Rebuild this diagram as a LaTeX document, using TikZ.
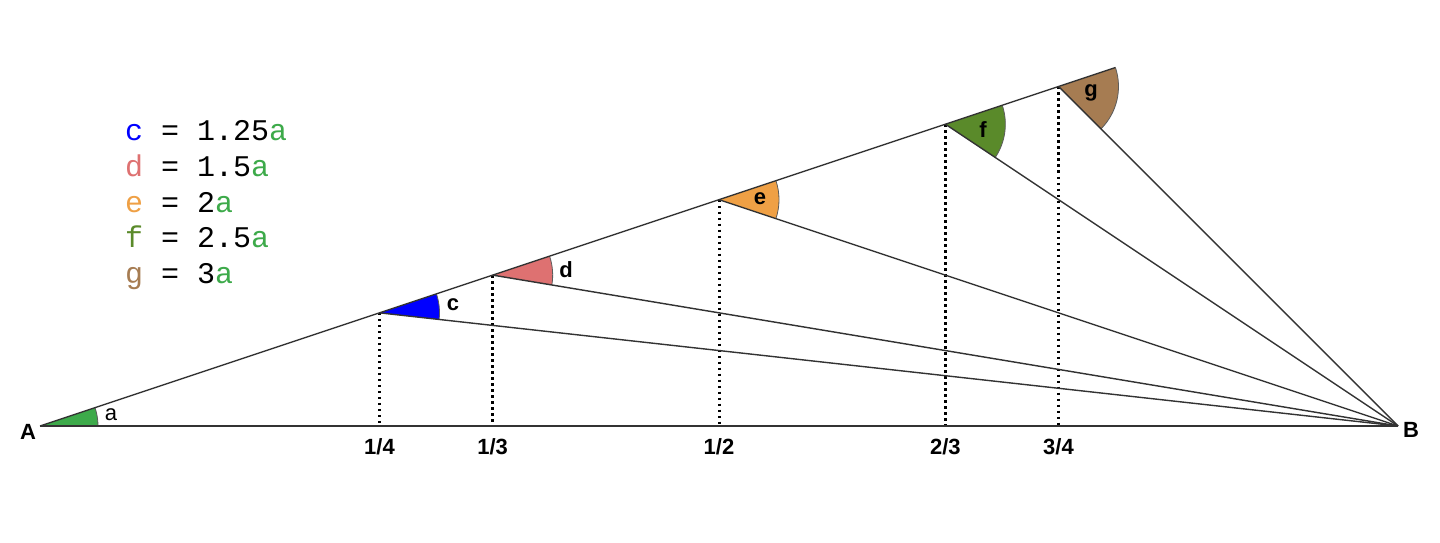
\documentclass[tikz,border=0pt]{standalone}
\usepackage{fontspec}
\setmainfont{Liberation Sans}
\newfontfamily\monofam{Liberation Mono}
\usetikzlibrary{calc}
\definecolor{cA}{HTML}{3DAA4A}
\definecolor{cC}{HTML}{0000FF}
\definecolor{cD}{HTML}{DE7171}
\definecolor{cE}{HTML}{EFA045}
\definecolor{cF}{HTML}{5A8A2A}
\definecolor{cG}{HTML}{A67C52}
\definecolor{lineC}{HTML}{333333}
\tikzset{
  mainline/.style={draw=lineC, line width=1.4pt},
  arcline/.style={draw=lineC!80, line width=0.8pt},
  dotline/.style={draw=black, line width=3pt, dash pattern=on 2.6pt off 3.4pt},
  lbl/.style={font=\fontsize{22}{22}\selectfont\bfseries, inner sep=0pt},
  albl/.style={font=\fontsize{22}{22}\selectfont, inner sep=0pt},
  leg/.style={font=\monofam\fontsize{30}{30}\selectfont, anchor=base west, inner sep=0pt}
}
\begin{document}
\begin{tikzpicture}[x=1pt,y=1pt]
\useasboundingbox (0,0) rectangle (1440,542);
\fill[white] (0,0) rectangle (1440,542);
\def\ta{18.435}
\coordinate (A) at (40,116);
\coordinate (B) at (1398,116);
\coordinate (P1) at (379.5,229.17);
\coordinate (P2) at (492.67,266.89);
\coordinate (P3) at (719,342.33);
\coordinate (P4) at (945.33,417.78);
\coordinate (P5) at (1058.5,455.5);
\coordinate (F1) at (379.5,116);
\coordinate (F2) at (492.67,116);
\coordinate (F3) at (719,116);
\coordinate (F4) at (945.33,116);
\coordinate (F5) at (1058.5,116);
\coordinate (T) at ($(P5)+(\ta:60)$);
% sectors
\fill[cA] (A) -- ++(0:58) arc[start angle=0, end angle=\ta, radius=58] -- cycle;
\draw[arcline] ($(A)+(0:58)$) arc[start angle=0, end angle=\ta, radius=58];
\foreach \P/\e/\c in {P1/-6.340/cC, P2/-9.462/cD, P3/-18.435/cE, P4/-33.690/cF, P5/-45/cG}{
  \fill[\c] (\P) -- ++(\ta:60) arc[start angle=\ta, end angle=\e, radius=60] -- cycle;
  \draw[arcline] ($(\P)+(\ta:60)$) arc[start angle=\ta, end angle=\e, radius=60];
}
% dotted verticals
\foreach \i in {1,...,5}{ \draw[dotline] (P\i) -- (F\i); }
% lines
\draw[mainline] (A) -- (B);
\draw[mainline] (A) -- (T);
\foreach \i in {1,...,5}{ \draw[mainline] (P\i) -- (B); }
% labels
\node[lbl] (lA) at (28,110) {A};
\node[lbl] (lB) at (1411,112) {B};
\node[lbl] (l1) at (379.5,95) {1/4};
\node[lbl] (l2) at (492.67,95) {1/3};
\node[lbl] (l3) at (719,95) {1/2};
\node[lbl] (l4) at (945.33,95) {2/3};
\node[lbl] (l5) at (1058.5,95) {3/4};
\node[albl] (la) at (111,127) {a};
\node[lbl] (lc) at (453,237) {c};
\node[lbl] (ld) at (566,272) {d};
\node[lbl] (le) at (760,343) {e};
\node[lbl] (lf) at (983,412) {f};
\node[lbl] (lg) at (1091,449) {g};
% legend
\node[leg] (g1) at (125,401) {\textcolor{cC}{c} = 1.25\textcolor{cA}{a}};
\node[leg] (g2) at (125,365.5) {\textcolor{cD}{d} = 1.5\textcolor{cA}{a}};
\node[leg] (g3) at (125,330) {\textcolor{cE}{e} = 2\textcolor{cA}{a}};
\node[leg] (g4) at (125,294.5) {\textcolor{cF}{f} = 2.5\textcolor{cA}{a}};
\node[leg] (g5) at (125,259) {\textcolor{cG}{g} = 3\textcolor{cA}{a}};
\end{tikzpicture}
\end{document}
